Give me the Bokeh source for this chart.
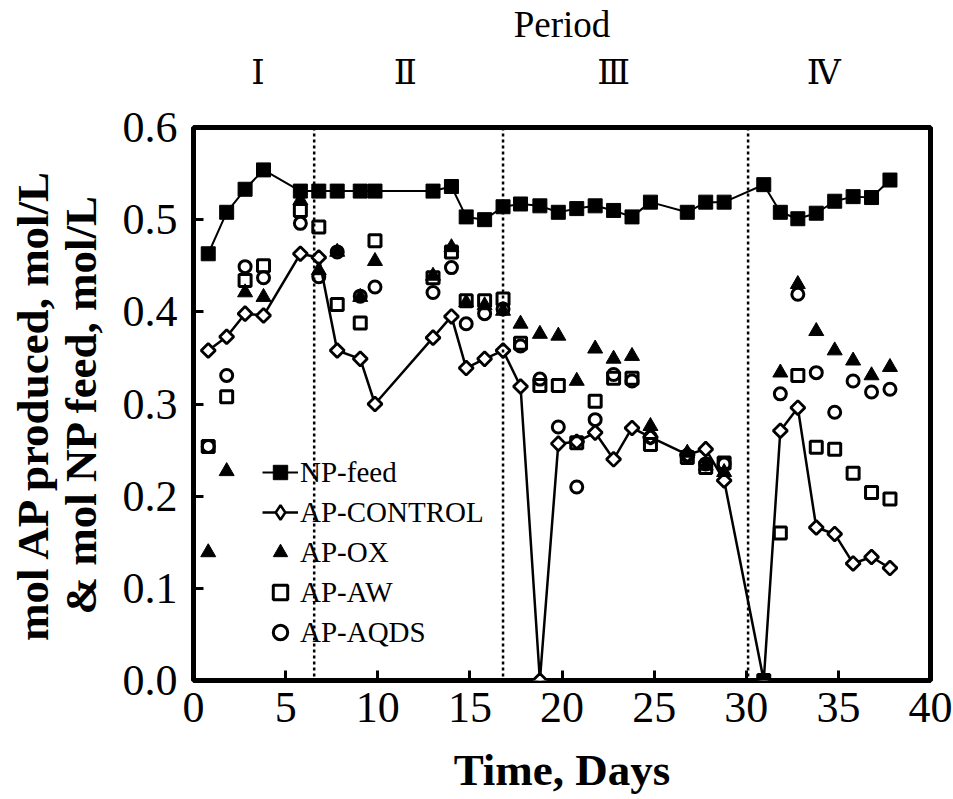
import numpy as np
from bokeh.plotting import figure
from bokeh.models import (Span, Legend, LegendItem, LinearAxis, FixedTicker,
                          NumeralTickFormatter, Range1d)
from bokeh.embed import file_html
from bokeh.resources import INLINE

# ---- data ----
days = [0.8, 1.8, 2.8, 3.8, 5.8, 6.8, 7.8, 9.05, 9.85, 13.0, 14.0, 14.8, 15.8,
        16.8, 17.75, 18.8, 19.8, 20.8, 21.8, 22.8, 23.8, 24.8, 26.8, 27.8, 28.8,
        30.95, 31.85, 32.8, 33.8, 34.8, 35.8, 36.8, 37.8]
np_feed = [0.463, 0.508, 0.533, 0.554, 0.531, 0.531, 0.531, 0.531, 0.531, 0.531,
           0.536, 0.503, 0.500, 0.514, 0.517, 0.515, 0.508, 0.512, 0.515, 0.510,
           0.503, 0.519, 0.508, 0.519, 0.519, 0.538, 0.508, 0.501, 0.507, 0.520,
           0.525, 0.524, 0.543]
ap_control = [0.358, 0.373, 0.398, 0.396, 0.463, 0.459, 0.358, 0.349, 0.300, 0.372,
              0.395, 0.339, 0.349, 0.358, 0.319, 0.0, 0.257, 0.259, 0.269, 0.240,
              0.274, 0.264, 0.245, 0.251, 0.217, 0.0, 0.271, 0.296, 0.166, 0.159,
              0.127, 0.134, 0.122]
ap_ox = [0.139, 0.227, 0.421, 0.416, 0.521, 0.445, 0.465, 0.416, 0.455, 0.439,
         0.470, 0.410, 0.407, 0.401, 0.387, 0.376, 0.374, 0.325, 0.360, 0.349,
         0.352, 0.276, 0.247, 0.233, 0.226, 0.0, 0.334, 0.430, 0.379, 0.358,
         0.347, 0.331, 0.340]
ap_aw = [0.254, 0.308, 0.434, 0.450, 0.510, 0.492, 0.408, 0.388, 0.477, 0.437,
         0.465, 0.412, 0.412, 0.414, 0.366, 0.320, 0.320, 0.258, 0.303, 0.328,
         0.328, 0.256, 0.242, 0.231, 0.236, 0.0, 0.160, 0.331, 0.253, 0.251,
         0.225, 0.204, 0.197]
ap_aqds = [0.254, 0.331, 0.449, 0.437, 0.496, 0.438, 0.465, 0.417, 0.427, 0.421,
           0.448, 0.387, 0.398, 0.403, 0.363, 0.327, 0.275, 0.210, 0.283, 0.332,
           0.325, 0.264, 0.244, 0.235, 0.235, 0.0, 0.311, 0.419, 0.334, 0.291,
           0.325, 0.313, 0.316]

period_bounds = [6.55, 16.8, 30.1]
period_centers = [3.5, 11.5, 22.8, 34.2]
period_labels = ["Ⅰ", "Ⅱ", "Ⅲ", "Ⅳ"]
x_ticks = [0, 5, 10, 15, 20, 25, 30, 35, 40]
y_ticks = [0.0, 0.1, 0.2, 0.3, 0.4, 0.5, 0.6]

FONT = "Liberation Serif"

p = figure(width=953, height=799, x_range=Range1d(0, 40), y_range=Range1d(0, 0.6),
           output_backend="svg", toolbar_location=None,
           min_border_left=193, min_border_right=23, min_border_top=127,
           min_border_bottom=119,
           x_axis_label="Time, Days",
           y_axis_label="mol AP produced, mol/L\n& mol NP feed, mol/L")
p.grid.visible = False
p.outline_line_color = "black"
p.outline_line_width = 5
p.background_fill_color = "white"
p.border_fill_color = "white"

# axes styling
xa = p.xaxis[0]
xa.ticker = FixedTicker(ticks=x_ticks)
ya = p.yaxis[0]
ya.ticker = FixedTicker(ticks=y_ticks)
ya.formatter = NumeralTickFormatter(format="0.0")
for ax in (xa, ya):
    ax.axis_line_color = None
    ax.major_tick_in = 10
    ax.major_tick_out = 0
    ax.major_tick_line_width = 3
    ax.major_tick_line_color = "black"
    ax.minor_tick_line_color = None
    ax.major_label_text_font = FONT
    ax.major_label_text_font_size = "44px"
    ax.major_label_text_color = "black"
    ax.axis_label_text_font = FONT
    ax.axis_label_text_font_style = "bold"
    ax.axis_label_text_font_size = "45px"
    ax.axis_label_text_color = "black"
xa.major_label_standoff = 12
xa.axis_label_standoff = 20
ya.major_label_standoff = 16
ya.axis_label_standoff = 14
ya.axis_label_text_line_height = 0.95

# period axis on top
top = LinearAxis(ticker=FixedTicker(ticks=period_centers),
                 major_label_overrides={c: l for c, l in zip(period_centers, period_labels)},
                 axis_label="Period")
top.axis_line_color = None
top.major_tick_line_color = None
top.minor_tick_line_color = None
top.major_label_text_font = "DejaVu Serif"
top.major_label_text_font_size = "34px"
top.major_label_text_color = "black"
top.major_label_standoff = 30
top.axis_label_text_font = FONT
top.axis_label_text_font_style = "normal"
top.axis_label_text_font_size = "37px"
top.axis_label_text_color = "black"
top.axis_label_standoff = 4
p.add_layout(top, "above")

# period boundaries
for b in period_bounds:
    p.add_layout(Span(location=b, dimension="height", line_color="black",
                      line_width=2.5, line_dash="3 3"))

# series
r_np_l = p.line(days, np_feed, line_color="black", line_width=2)
r_np = p.scatter(days, np_feed, marker="square", size=14, fill_color="black",
                 line_color="black", line_width=1)
r_c_l = p.line(days, ap_control, line_color="black", line_width=2.5)
# diamond glyph used for the legend entry (covered by the rotated squares below)
r_c_leg = p.scatter(days, ap_control, marker="diamond", size=7, fill_color="white",
                    line_color="black", line_width=2.5)
r_c = p.scatter(days, ap_control, marker="square", angle=np.pi / 4, size=10,
                fill_color="white", line_color="black", line_width=2.8)
r_ox = p.scatter(days, ap_ox, marker="triangle", size=15, fill_color="black",
                 line_color="black", line_width=1)
r_aw = p.scatter(days, ap_aw, marker="square", size=12, fill_color=None,
                 line_color="black", line_width=3)
r_aq = p.scatter(days, ap_aqds, marker="circle", size=12, fill_color=None,
                 line_color="black", line_width=3)

legend = Legend(items=[
    LegendItem(label="NP-feed", renderers=[r_np_l, r_np]),
    LegendItem(label="AP-CONTROL", renderers=[r_c_l, r_c_leg]),
    LegendItem(label="AP-OX", renderers=[r_ox]),
    LegendItem(label="AP-AW", renderers=[r_aw]),
    LegendItem(label="AP-AQDS", renderers=[r_aq]),
], location=(69, 28), orientation="vertical", padding=0, margin=0, spacing=0,
    label_height=40, glyph_height=40, glyph_width=36, label_standoff=2,
    background_fill_alpha=0, border_line_color=None,
    label_text_font=FONT, label_text_font_size="29px", label_text_color="black")
p.add_layout(legend)

open("out.html", "w").write(file_html(p, INLINE))
